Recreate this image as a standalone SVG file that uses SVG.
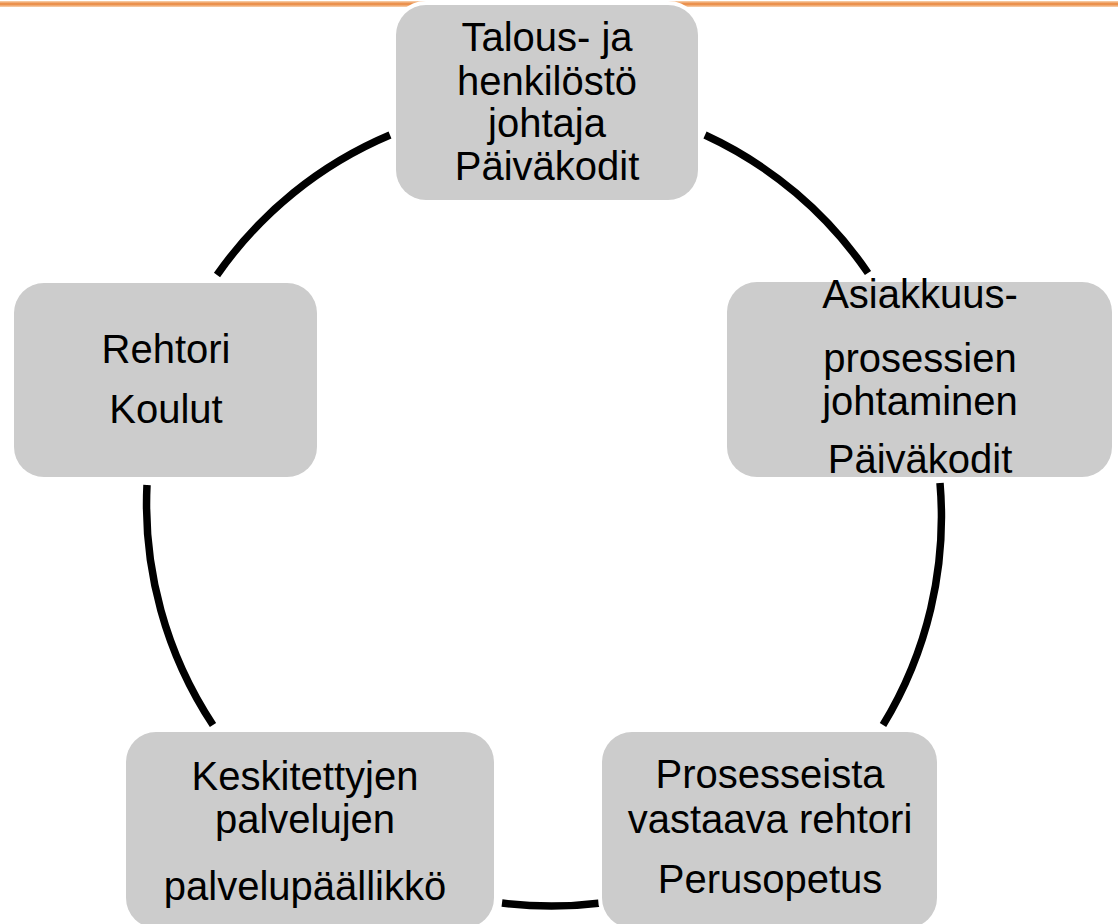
<svg xmlns="http://www.w3.org/2000/svg" width="1118" height="924" viewBox="0 0 1118 924">
  <defs>
    <linearGradient id="orange" x1="0" y1="0" x2="0" y2="1">
      <stop offset="0" stop-color="#F9D3B0"/>
      <stop offset="0.5" stop-color="#E8843A"/>
      <stop offset="1" stop-color="#F9D3B0"/>
    </linearGradient>
  </defs>
  <style>
    .box { fill: #CCCCCC; stroke: #FFFFFF; stroke-width: 8; paint-order: stroke; }
    .lbl { font-family: "Liberation Sans", Arial, sans-serif; font-size: 40px; fill: #000000; text-anchor: middle; }
    .arc { fill: none; stroke: #000000; stroke-width: 7.5; stroke-linecap: butt; }
  </style>
  <rect x="0" y="1" width="1118" height="6" fill="url(#orange)"/>
  <g id="connectors">
    <path class="arc" d="M217,275 A400,400 0 0 1 390,135"/>
    <path class="arc" d="M705,135 A400,400 0 0 1 868,273"/>
    <path class="arc" d="M940,483 A400,400 0 0 1 883,725"/>
    <path class="arc" d="M601,903 A400,400 0 0 1 502,903"/>
    <path class="arc" d="M213,725 A400,400 0 0 1 147,485"/>
  </g>
  <g id="node-top">
    <rect class="box" x="396" y="5" width="302" height="195" rx="30" ry="30"/>
    <text class="lbl" x="547" y="51">Talous- ja</text>
    <text class="lbl" x="547" y="95">henkilöstö</text>
    <text class="lbl" x="547" y="137">johtaja</text>
    <text class="lbl" x="547" y="180">Päiväkodit</text>
  </g>
  <g id="node-right">
    <rect class="box" x="727" y="282" width="385" height="195" rx="30" ry="30"/>
    <text class="lbl" x="920" y="308">Asiakkuus-</text>
    <text class="lbl" x="920" y="372">prosessien</text>
    <text class="lbl" x="920" y="415">johtaminen</text>
    <text class="lbl" x="920" y="473">Päiväkodit</text>
  </g>
  <g id="node-left">
    <rect class="box" x="14" y="283" width="303" height="194" rx="30" ry="30"/>
    <text class="lbl" x="166" y="363">Rehtori</text>
    <text class="lbl" x="166" y="423">Koulut</text>
  </g>
  <g id="node-bottom-left">
    <rect class="box" x="126" y="732" width="368" height="196" rx="30" ry="30"/>
    <text class="lbl" x="305" y="790">Keskitettyjen</text>
    <text class="lbl" x="305" y="833">palvelujen</text>
    <text class="lbl" x="305" y="900">palvelupäällikkö</text>
  </g>
  <g id="node-bottom-right">
    <rect class="box" x="602" y="732" width="335" height="196" rx="30" ry="30"/>
    <text class="lbl" x="770" y="788">Prosesseista</text>
    <text class="lbl" x="770" y="833">vastaava rehtori</text>
    <text class="lbl" x="770" y="893">Perusopetus</text>
  </g>
</svg>
